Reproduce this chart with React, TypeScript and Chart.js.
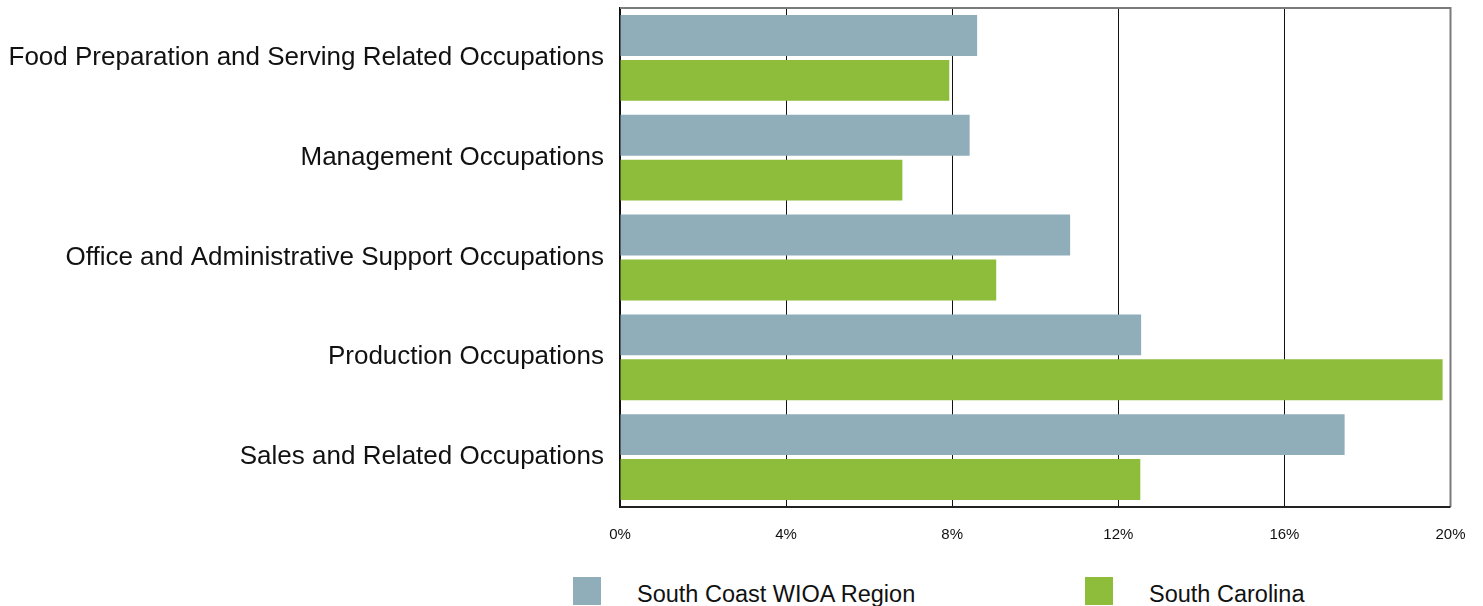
import React, { useEffect, useRef } from "react";
import { Chart, registerables } from "chart.js";

Chart.register(...registerables);

const categories = [
  "Food Preparation and Serving Related Occupations",
  "Management Occupations",
  "Office and Administrative Support Occupations",
  "Production Occupations",
  "Sales and Related Occupations",
];
const seriesNames = ["South Coast WIOA Region", "South Carolina"];
const southCoast = [8.6, 8.42, 10.84, 12.55, 17.45];
const southCarolina = [7.93, 6.8, 9.06, 19.81, 12.53];
const colors = ["#8FAEBA", "#8DBD3B"];
const tickStep = 4;
const xMax = 20;

const FONT = "'Liberation Sans', Arial, sans-serif";

const borderPlugin = {
  id: "plotBorder",
  afterDraw(chart: any) {
    const { ctx, chartArea } = chart;
    ctx.save();
    ctx.strokeStyle = "#7a7a7a";
    ctx.lineWidth = 2;
    ctx.beginPath();
    ctx.moveTo(chartArea.left, chartArea.top);
    ctx.lineTo(chartArea.right, chartArea.top);
    ctx.lineTo(chartArea.right, chartArea.bottom);
    ctx.stroke();
    ctx.strokeStyle = "#222";
    ctx.beginPath();
    ctx.moveTo(chartArea.left, chartArea.bottom);
    ctx.lineTo(chartArea.right, chartArea.bottom);
    ctx.stroke();
    ctx.restore();
  },
};

export default function App() {
  const ref = useRef<HTMLCanvasElement>(null);
  useEffect(() => {
    if (!ref.current) return;
    const chart = new Chart(ref.current, {
      type: "bar",
      data: {
        labels: categories,
        datasets: [
          {
            label: seriesNames[0],
            data: southCoast,
            backgroundColor: colors[0],
            categoryPercentage: 0.9,
            barPercentage: 0.91,
          },
          {
            label: seriesNames[1],
            data: southCarolina,
            backgroundColor: colors[1],
            categoryPercentage: 0.9,
            barPercentage: 0.91,
          },
        ],
      },
      plugins: [borderPlugin],
      options: {
        indexAxis: "y",
        animation: false,
        responsive: false,
        maintainAspectRatio: false,
        layout: { padding: { top: 8, right: 32.5, left: 0, bottom: 0 } },
        plugins: {
          legend: { display: false },
          tooltip: { enabled: false },
        },
        scales: {
          x: {
            min: 0,
            max: xMax,
            ticks: {
              stepSize: tickStep,
              callback: (v: any) => v + "%",
              color: "#111",
              font: { family: FONT, size: 15 },
              padding: 19,
              maxRotation: 0,
            },
            grid: {
              color: (c: any) => (c.tick && c.tick.value === xMax ? "#7a7a7a" : "#111"),
              lineWidth: 1,
              drawTicks: false,
            },
            border: { display: false },
            afterFit: (s: any) => {
              s.height = 53;
              s.paddingLeft = 0;
              s.paddingRight = 0;
            },
          },
          y: {
            ticks: {
              color: "#111",
              font: { family: FONT, size: 26 },
              padding: 16,
            },
            grid: { display: false, drawTicks: false },
            border: { display: true, color: "#111", width: 1.5 },
            afterFit: (s: any) => {
              s.width = 620;
              s.paddingTop = 0;
              s.paddingBottom = 0;
            },
          },
        },
      },
    });
    return () => chart.destroy();
  }, []);

  const legendPos = [
    { box: 573, text: 637 },
    { box: 1085, text: 1149 },
  ];

  return (
    <div style={{ position: "absolute", left: 0, top: 0, width: 1483, height: 606, background: "#fff", overflow: "hidden" }}>
      <canvas ref={ref} width={1483} height={560} style={{ position: "absolute", left: 0, top: 0, width: 1483, height: 560 }} />
      {seriesNames.map((name, i) => (
        <React.Fragment key={name}>
          <div
            style={{
              position: "absolute",
              left: legendPos[i].box,
              top: 577,
              width: 28,
              height: 28,
              background: colors[i],
            }}
          />
          <div
            style={{
              position: "absolute",
              left: legendPos[i].text,
              top: 580,
              fontFamily: FONT,
              fontSize: 23.5,
              lineHeight: "28px",
              color: "#111",
              whiteSpace: "nowrap",
            }}
          >
            {name}
          </div>
        </React.Fragment>
      ))}
    </div>
  );
}
